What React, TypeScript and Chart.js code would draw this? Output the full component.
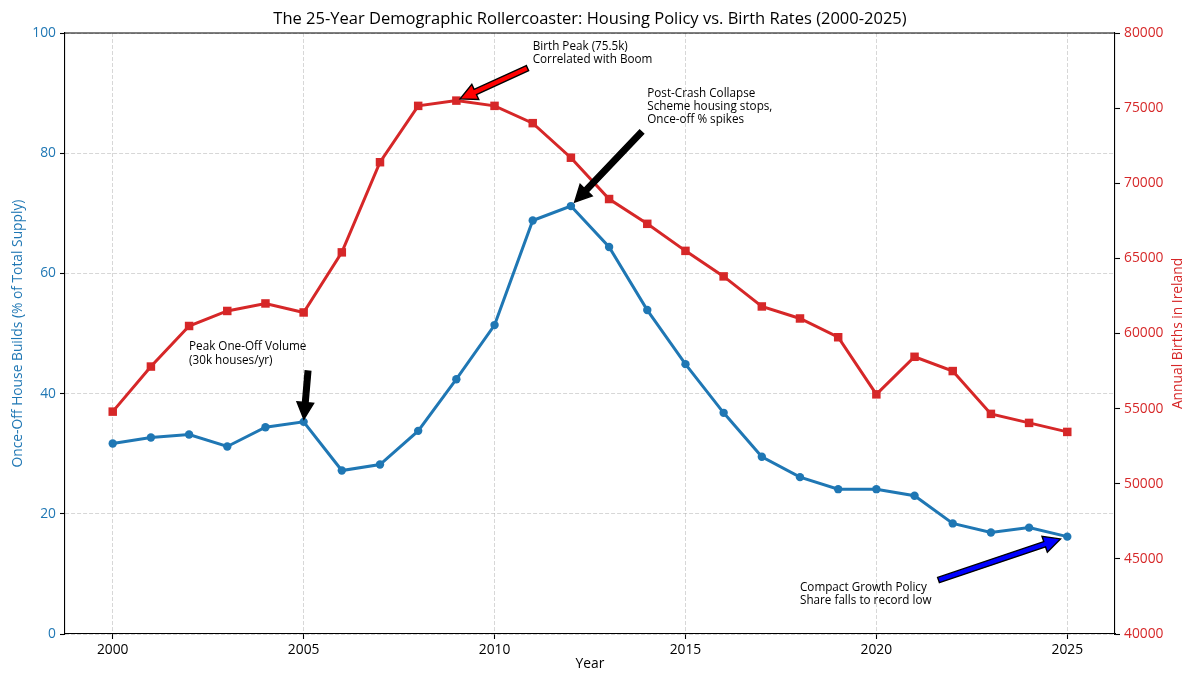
import React, { useEffect, useRef } from "react";
import { Chart, registerables } from "chart.js";

Chart.register(...registerables);

const years = [
  2000, 2001, 2002, 2003, 2004, 2005, 2006, 2007, 2008, 2009, 2010, 2011, 2012,
  2013, 2014, 2015, 2016, 2017, 2018, 2019, 2020, 2021, 2022, 2023, 2024, 2025,
];
const oneOffShare = [
  31.7, 32.7, 33.2, 31.2, 34.4, 35.3, 27.2, 28.2, 33.8, 42.4, 51.4, 68.8, 71.2,
  64.4, 53.9, 44.9, 36.8, 29.5, 26.1, 24.1, 24.1, 23.0, 18.4, 16.9, 17.7, 16.2,
];
const births = [
  54800, 57800, 60500, 61500, 62000, 61400, 65400, 71400, 75150, 75500, 75150,
  74000, 71700, 68950, 67300, 65500, 63800, 61800, 61000, 59750, 55950, 58450,
  57500, 54650, 54050, 53450,
];
const xTicks = [2000, 2005, 2010, 2015, 2020, 2025];
const leftTicks = [0, 20, 40, 60, 80, 100];
const rightTicks = [40000, 45000, 50000, 55000, 60000, 65000, 70000, 75000, 80000];

const titleText =
  "The 25-Year Demographic Rollercoaster: Housing Policy vs. Birth Rates (2000-2025)";
const xTitle = "Year";
const leftTitle = "Once-Off House Builds (% of Total Supply)";
const rightTitle = "Annual Births in Ireland";

const BLUE = "#1f77b4";
const RED = "#d62728";
const FONT = "'Open Sans', Roboto, sans-serif";

// annotations: text anchored (left, baseline of last line) at textX/textY,
// arrow from tail point to the data point of the given series/year
const annTexts = [
  "Birth Peak (75.5k)\nCorrelated with Boom",
  "Post-Crash Collapse\nScheme housing stops,\nOnce-off % spikes",
  "Peak One-Off Volume\n(30k houses/yr)",
  "Compact Growth Policy\nShare falls to record low",
];
const annAxis = ["y1", "y", "y", "y"];
const annTargetYear = [2009, 2012, 2005, 2025];
const annTextX = [2011, 2014, 2002, 2018];
const annTextY = [78000, 85, 45, 5];
const annTailX = [2010.96, 2013.95, 2005.12, 2021.45];
const annTailY = [77780, 84.2, 44.2, 8.6];
const annFill = ["#ff0000", "#000000", "#000000", "#0000ff"];

export default function App() {
  const ref = useRef<HTMLCanvasElement | null>(null);

  useEffect(() => {
    if (!ref.current) return;

    const overlay = {
      id: "overlay",
      afterDraw(chart: any) {
        const ctx = chart.ctx;
        const ca = chart.chartArea;
        const xs = chart.scales.x;
        ctx.save();
        // top spine
        ctx.strokeStyle = "#000";
        ctx.lineWidth = 1.1;
        ctx.beginPath();
        ctx.moveTo(ca.left, ca.top);
        ctx.lineTo(ca.right, ca.top);
        ctx.stroke();

        // title
        ctx.fillStyle = "#000";
        ctx.font = `16.5px ${FONT}`;
        ctx.textAlign = "center";
        ctx.textBaseline = "middle";
        ctx.fillText(titleText, (ca.left + ca.right) / 2, 19);

        // axis titles
        ctx.font = `13.8px ${FONT}`;
        ctx.fillText(xTitle, (ca.left + ca.right) / 2, 664);
        ctx.save();
        ctx.fillStyle = BLUE;
        ctx.translate(18, (ca.top + ca.bottom) / 2);
        ctx.rotate(-Math.PI / 2);
        ctx.fillText(leftTitle, 0, 0);
        ctx.restore();
        ctx.save();
        ctx.fillStyle = RED;
        ctx.translate(1178, (ca.top + ca.bottom) / 2);
        ctx.rotate(-Math.PI / 2);
        ctx.fillText(rightTitle, 0, 0);
        ctx.restore();

        // annotations
        const fs = 11.7;
        const lh = 13.2;
        for (let i = 0; i < annTexts.length; i++) {
          const ys = chart.scales[annAxis[i]];
          const lines = annTexts[i].split("\n");
          const tx = xs.getPixelForValue(annTextX[i]);
          const ty = ys.getPixelForValue(annTextY[i]);
          ctx.font = `${fs}px ${FONT}`;
          ctx.fillStyle = "#000";
          ctx.textAlign = "left";
          ctx.textBaseline = "alphabetic";
          lines.forEach((ln, k) => {
            ctx.fillText(ln, tx, ty - (lines.length - 1 - k) * lh);
          });

          const idx = years.indexOf(annTargetYear[i]);
          const val = annAxis[i] === "y" ? oneOffShare[idx] : births[idx];
          const px = xs.getPixelForValue(annTargetYear[i]);
          const py = ys.getPixelForValue(val);
          const qx = xs.getPixelForValue(annTailX[i]);
          const qy = ys.getPixelForValue(annTailY[i]);
          // shrink 5% on both ends
          const sx = qx + 0.05 * (px - qx);
          const sy = qy + 0.05 * (py - qy);
          const ex = px - 0.05 * (px - qx);
          const ey = py - 0.05 * (py - qy);
          const len = Math.hypot(ex - sx, ey - sy);
          const dx = (ex - sx) / len;
          const dy = (ey - sy) / len;
          const nx = -dy;
          const ny = dx;
          const w = 5.6 / 2;
          const hw = 16.7 / 2;
          const hl = 16.7;
          const bx = ex - dx * hl;
          const by = ey - dy * hl;
          ctx.beginPath();
          ctx.moveTo(sx + nx * w, sy + ny * w);
          ctx.lineTo(bx + nx * w, by + ny * w);
          ctx.lineTo(bx + nx * hw, by + ny * hw);
          ctx.lineTo(ex, ey);
          ctx.lineTo(bx - nx * hw, by - ny * hw);
          ctx.lineTo(bx - nx * w, by - ny * w);
          ctx.lineTo(sx - nx * w, sy - ny * w);
          ctx.closePath();
          ctx.fillStyle = annFill[i];
          ctx.fill();
          ctx.strokeStyle = "#000";
          ctx.lineWidth = 1.4;
          ctx.lineJoin = "miter";
          ctx.stroke();
        }
        ctx.restore();
      },
    };

    const gridCommon = {
      color: "rgba(176,176,176,0.5)",
      lineWidth: 1,
      tickColor: "#000",
      tickLength: 5,
      tickWidth: 1.1,
      tickBorderDash: [],
    };

    const chart = new Chart(ref.current, {
      type: "line",
      data: {
        datasets: [
          {
            label: "Once-Off share",
            data: years.map((y, i) => ({ x: y, y: oneOffShare[i] })),
            borderColor: BLUE,
            backgroundColor: BLUE,
            borderWidth: 3,
            pointStyle: "circle",
            pointRadius: 4.2,
            pointBorderWidth: 0,
            yAxisID: "y",
            tension: 0,
          },
          {
            label: "Births",
            data: years.map((y, i) => ({ x: y, y: births[i] })),
            borderColor: RED,
            backgroundColor: RED,
            borderWidth: 3,
            pointStyle: "rect",
            pointRadius: 6,
            pointBorderWidth: 0,
            yAxisID: "y1",
            tension: 0,
          },
        ],
      },
      plugins: [overlay],
      options: {
        animation: false,
        responsive: true,
        maintainAspectRatio: false,
        layout: { padding: { top: 33, left: 0, right: 0, bottom: 0 } },
        plugins: {
          legend: { display: false },
          tooltip: { enabled: false },
          title: { display: false },
        },
        scales: {
          x: {
            type: "linear",
            min: 1998.75,
            max: 2026.25,
            afterBuildTicks: (axis: any) => {
              axis.ticks = xTicks.map((v) => ({ value: v }));
            },
            afterFit: (s: any) => {
              s.height = 52;
            },
            ticks: {
              color: "#000",
              font: { family: FONT, size: 13.8 },
              padding: 3,
              maxRotation: 0,
              autoSkip: false,
              callback: (v: any) => String(v),
            },
            grid: gridCommon,
            border: { display: true, color: "#000", width: 1.1, dash: [4, 2] },
          },
          y: {
            type: "linear",
            position: "left",
            min: 0,
            max: 100,
            afterBuildTicks: (axis: any) => {
              axis.ticks = leftTicks.map((v) => ({ value: v }));
            },
            afterFit: (s: any) => {
              s.width = 65;
            },
            ticks: {
              color: BLUE,
              font: { family: FONT, size: 13.8 },
              padding: 4,
              callback: (v: any) => String(v),
            },
            grid: gridCommon,
            border: { display: true, color: "#000", width: 1.1, dash: [4, 2] },
          },
          y1: {
            type: "linear",
            position: "right",
            min: 40000,
            max: 80000,
            afterBuildTicks: (axis: any) => {
              axis.ticks = rightTicks.map((v) => ({ value: v }));
            },
            afterFit: (s: any) => {
              s.width = 85;
            },
            ticks: {
              color: RED,
              font: { family: FONT, size: 13.8 },
              padding: 4,
              callback: (v: any) => String(v),
            },
            grid: { ...gridCommon, drawOnChartArea: false },
            border: { display: true, color: "#000", width: 1.1 },
          },
        },
      },
    });
    return () => chart.destroy();
  }, []);

  return (
    <div
      style={{
        position: "absolute",
        left: 0,
        top: 0,
        width: 1200,
        height: 686,
        background: "#fff",
      }}
    >
      <canvas ref={ref} />
    </div>
  );
}
